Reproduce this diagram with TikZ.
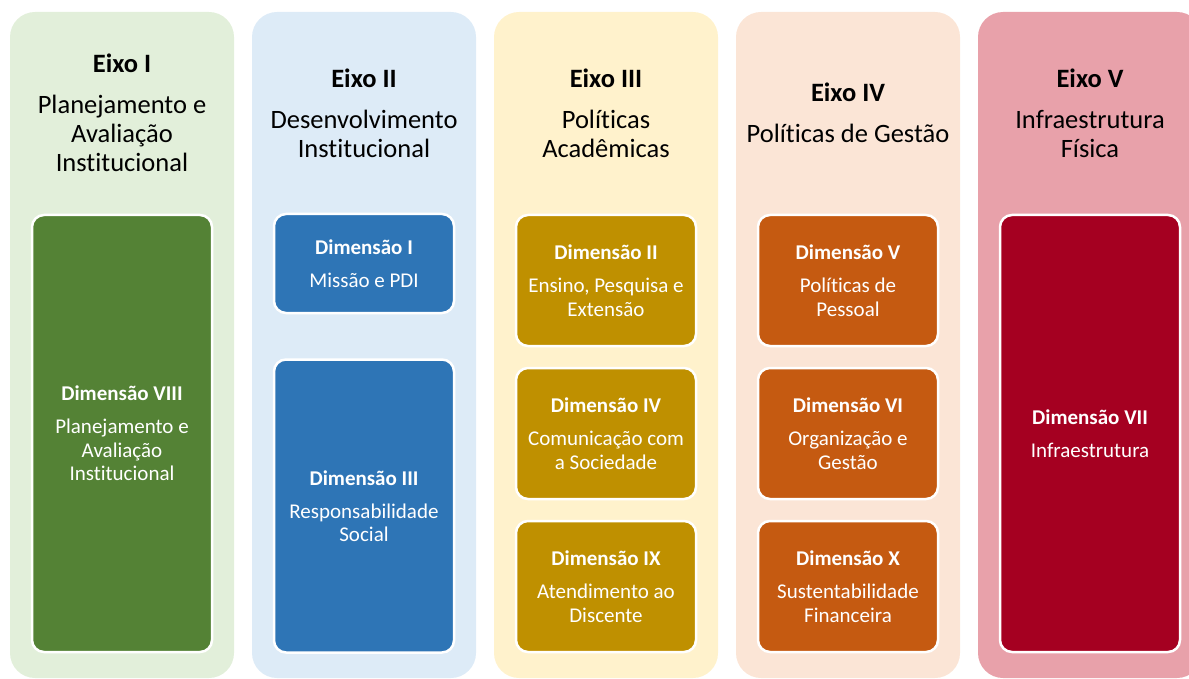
\documentclass[tikz,border=0pt]{standalone}
\usepackage{fontspec}
\setmainfont{Carlito}[Ligatures=NoCommon]
\usetikzlibrary{positioning}

\definecolor{fundoI}{HTML}{E2EFDA}
\definecolor{fundoII}{HTML}{DDEBF7}
\definecolor{fundoIII}{HTML}{FFF2CC}
\definecolor{fundoIV}{HTML}{FBE5D6}
\definecolor{fundoV}{HTML}{E8A1AA}
\definecolor{caixaI}{HTML}{548235}
\definecolor{caixaII}{HTML}{2E75B6}
\definecolor{caixaIII}{HTML}{BF9000}
\definecolor{caixaIV}{HTML}{C55A11}
\definecolor{caixaV}{HTML}{A50021}

\tikzset{
  eixo/.style={rounded corners=25pt, minimum width=224pt, minimum height=666pt, inner sep=0pt},
  titulo/.style={align=center, font=\fontsize{26.5}{29}\selectfont},
  dim/.style={draw=white, line width=2.5pt, rounded corners=12pt, minimum width=180pt,
    inner sep=0pt, text=white, align=center, font=\fontsize{21}{23.5}\selectfont}
}

\begin{document}
\begin{tikzpicture}
   [x=1pt, y=-1pt]
   \useasboundingbox (0,0) rectangle (1189,679);
   % colunas dos eixos
   \node[eixo, fill=fundoI] (e1) at (122,345) {};
   \node[eixo, fill=fundoII] (e2) at (364,345) {};
   \node[eixo, fill=fundoIII] (e3) at (606,345) {};
   \node[eixo, fill=fundoIV] (e4) at (848,345) {};
   \node[eixo, fill=fundoV] (e5) at (1090,345) {};
   % titulos
   \node[titulo] (t1) at (122,113) {\textbf{Eixo I}\\[12pt]Planejamento e\\Avaliação\\Institucional};
   \node[titulo] (t2) at (364,113) {\textbf{Eixo II}\\[12pt]Desenvolvimento\\Institucional};
   \node[titulo] (t3) at (606,113) {\textbf{Eixo III}\\[12pt]Políticas\\Acadêmicas};
   \node[titulo] (t4) at (848,113) {\textbf{Eixo IV}\\[12pt]Políticas de Gestão};
   \node[titulo] (t5) at (1090,113) {\textbf{Eixo V}\\[12pt]Infraestrutura\\Física};
   % dimensoes
   \node[dim, fill=caixaI, minimum height=437pt] (d8) at (122,433.5) {\textbf{Dimensão VIII}\\[9.5pt]Planejamento e\\Avaliação\\Institucional};
   \node[dim, fill=caixaII, minimum height=99pt] (d1) at (364,263.5) {\textbf{Dimensão I}\\[9.5pt]Missão e PDI};
   \node[dim, fill=caixaII, minimum height=293pt, below=44pt of d1] (d3) {\textbf{Dimensão III}\\[9.5pt]Responsabilidade\\Social};
   \node[dim, fill=caixaIII, minimum height=131pt] (d2) at (606,280.5) {\textbf{Dimensão II}\\[9.5pt]Ensino, Pesquisa e\\Extensão};
   \node[dim, fill=caixaIII, minimum height=131pt, below=19.5pt of d2] (d4) {\textbf{Dimensão IV}\\[9.5pt]Comunicação com\\a Sociedade};
   \node[dim, fill=caixaIII, minimum height=131pt, below=19.5pt of d4] (d9) {\textbf{Dimensão IX}\\[9.5pt]Atendimento ao\\Discente};
   \node[dim, fill=caixaIV, minimum height=131pt] (d5) at (848,280.5) {\textbf{Dimensão V}\\[9.5pt]Políticas de\\Pessoal};
   \node[dim, fill=caixaIV, minimum height=131pt, below=19.5pt of d5] (d6) {\textbf{Dimensão VI}\\[9.5pt]Organização e\\Gestão};
   \node[dim, fill=caixaIV, minimum height=131pt, below=19.5pt of d6] (d10) {\textbf{Dimensão X}\\[9.5pt]Sustentabilidade\\Financeira};
   \node[dim, fill=caixaV, minimum height=437pt] (d7) at (1090,433.5) {\textbf{Dimensão VII}\\[9.5pt]Infraestrutura};
\end{tikzpicture}
\end{document}
